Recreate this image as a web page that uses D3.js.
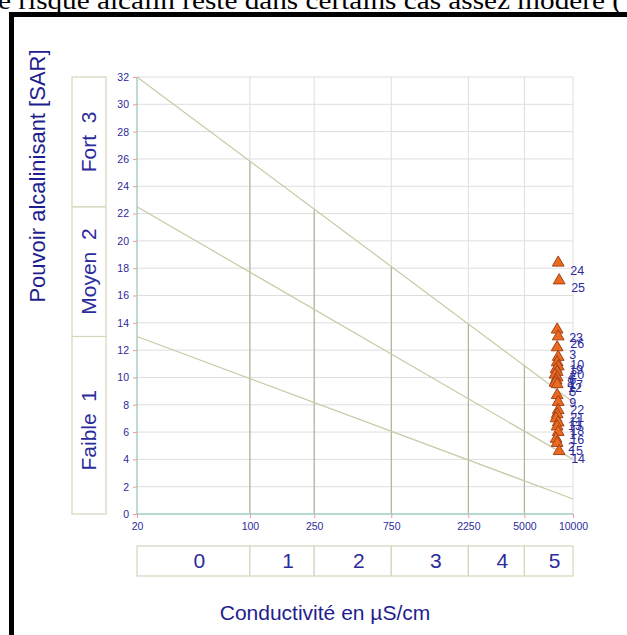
<!DOCTYPE html>
<html>
<head>
<meta charset="utf-8">
<script src="https://cdn.jsdelivr.net/npm/d3@7"></script>
<style>
  body { margin: 0; background: #fff; }
  svg { display: block; }
</style>
</head>
<body>
<script>
// données du diagramme de Richards (SAR / conductivité)
const ecTicks = [20, 100, 250, 750, 2250, 5000, 10000];
const sarTicks = [0, 2, 4, 6, 8, 10, 12, 14, 16, 18, 20, 22, 24, 26, 28, 30, 32];
const salinClasses = ["0", "1", "2", "3", "4", "5"];
const alcaNames = ["Faible", "Moyen", "Fort"];
const alcaNums = ["1", "2", "3"];
const alcaBounds = [0, 13, 22.5, 32];
// droites limites : SAR à 20 et à 10000 µS/cm
const limitStart = [32, 22.5, 13];
const limitEnd = [8.2, 4, 1.1];

const pointIds = [24, 25, 23, 26, 3, 10, 19, 20, 4, 6, 8, 17, 12, 7, 5, 9, 22, 21, 11, 13, 18, 1, 16, 2, 15, 14];
const pointSar = [18.4, 17.1, 13.5, 13.0, 12.2, 11.5, 11.1, 10.8, 10.6, 10.4, 10.2, 10.0, 9.8, 9.6, 9.5, 8.7, 8.2, 7.6, 7.3, 7.0, 6.7, 6.4, 6.0, 5.5, 5.2, 4.6];
const pointEc = [8100, 8210, 7980, 8100, 7980, 8100, 7980, 8100, 7860, 7980, 7740, 7980, 7860, 7740, 7980, 7980, 8100, 8100, 7980, 7860, 8100, 7980, 8100, 7860, 7980, 8210];

const W = 627, H = 635;
const svg = d3.select("body").append("svg")
  .attr("width", W).attr("height", H);

// texte du document coupé en haut
svg.append("text")
  .attr("x", -2).attr("y", 9)
  .attr("font-family", "Liberation Serif, Times New Roman, serif")
  .attr("font-size", 25)
  .attr("textLength", 624)
  .attr("lengthAdjust", "spacingAndGlyphs")
  .text("e risque alcalin reste dans certains cas assez modéré (");

// cadre
svg.append("rect")
  .attr("x", 11.5).attr("y", 14.5)
  .attr("width", 700).attr("height", 700)
  .attr("fill", "none").attr("stroke", "#000").attr("stroke-width", 5);

const x = d3.scaleLog().domain([20, 10000]).range([137, 573]);
const y = d3.scaleLinear().domain([0, 32]).range([514, 77]);

const navy = "#2b2b9c";
const font = "Liberation Sans, Arial, sans-serif";

// grille
svg.append("g").selectAll("line").data(sarTicks).enter().append("line")
  .attr("x1", x(20)).attr("x2", x(10000))
  .attr("y1", d => y(d)).attr("y2", d => y(d))
  .attr("stroke", "#dedede").attr("stroke-width", 1);

svg.append("g").selectAll("line").data(ecTicks.slice(1)).enter().append("line")
  .attr("x1", d => x(d)).attr("x2", d => x(d))
  .attr("y1", y(32)).attr("y2", y(0))
  .attr("stroke", "#dedede").attr("stroke-width", 1);

// verticales sous la droite supérieure
const topLine = d3.scaleLinear().domain([Math.log10(20), Math.log10(10000)]).range([limitStart[0], limitEnd[0]]);
svg.append("g").selectAll("line").data(ecTicks.slice(1, -1)).enter().append("line")
  .attr("x1", d => x(d)).attr("x2", d => x(d))
  .attr("y1", d => y(topLine(Math.log10(d)))).attr("y2", y(0))
  .attr("stroke", "#a9a98c").attr("stroke-width", 1);

// droites limites
svg.append("g").selectAll("line").data(limitStart).enter().append("line")
  .attr("x1", x(20)).attr("x2", x(10000))
  .attr("y1", d => y(d)).attr("y2", (d, i) => y(limitEnd[i]))
  .attr("stroke", "#c9c9a6").attr("stroke-width", 1.2);

// axes
const yAxis = svg.append("g")
  .attr("transform", `translate(${x(20)},0)`)
  .call(d3.axisLeft(y).tickValues(sarTicks).tickSize(4).tickPadding(4));
const xAxis = svg.append("g")
  .attr("transform", `translate(0,${y(0)})`)
  .call(d3.axisBottom(x).tickValues(ecTicks).tickFormat(d3.format("d")).tickSize(4).tickPadding(5));
[yAxis, xAxis].forEach(a => {
  a.select(".domain").attr("stroke", "#a6d2c4").attr("stroke-width", 1.5);
  a.selectAll(".tick line").attr("stroke", "#f29a9a");
  a.selectAll(".tick text").attr("fill", navy).attr("font-family", font).attr("font-size", 10.5);
});
yAxis.select(".domain").attr("d", `M0,${y(32)}V${y(0)}`);
xAxis.select(".domain").attr("d", `M${x(20)},0H${x(10000)}`);

// classes d'alcalinisation (gauche)
const alca = svg.append("g");
alcaNames.forEach((n, i) => {
  const y0 = y(alcaBounds[i + 1]), y1 = y(alcaBounds[i]);
  alca.append("rect")
    .attr("x", 72).attr("y", y0).attr("width", 34).attr("height", y1 - y0)
    .attr("fill", "#fff").attr("stroke", "#d6d6bd").attr("stroke-width", 1.2);
  alca.append("text")
    .attr("transform", `translate(96,${(y0 + y1) / 2 + (i === 0 ? 5 : 0)}) rotate(-90)`)
    .attr("text-anchor", "middle")
    .attr("fill", navy).attr("font-family", font).attr("font-size", 21)
    .style("white-space", "pre")
    .text(n + "  " + alcaNums[i]);
});

// classes de salinité (bas)
const sal = svg.append("g");
salinClasses.forEach((c, i) => {
  const x0 = x(ecTicks[i]), x1 = x(ecTicks[i + 1]);
  sal.append("rect")
    .attr("x", x0).attr("y", 546).attr("width", x1 - x0).attr("height", 30)
    .attr("fill", "#fff").attr("stroke", "#d6d6bd").attr("stroke-width", 1.2);
  sal.append("text")
    .attr("x", (x0 + x1) / 2 + 6).attr("y", 568)
    .attr("text-anchor", "middle")
    .attr("fill", navy).attr("font-family", font).attr("font-size", 21)
    .text(c);
});

// points
const tri = d3.symbol().type(d3.symbolTriangle).size(60);
const pts = svg.append("g").selectAll("g").data(pointIds).enter().append("g")
  .attr("transform", (d, i) => `translate(${x(pointEc[i])},${y(pointSar[i])})`);
pts.append("path").attr("d", tri)
  .attr("fill", "#ec6a1f").attr("stroke", "#a2421a").attr("stroke-width", 1);
pts.append("text")
  .attr("x", 12).attr("y", 12)
  .attr("fill", navy).attr("font-family", font).attr("font-size", 12.5)
  .text(d => d);

// titres
svg.append("text")
  .attr("transform", "translate(45,176) rotate(-90)")
  .attr("text-anchor", "middle")
  .attr("fill", "#1e1e8e").attr("font-family", font).attr("font-size", 22)
  .text("Pouvoir alcalinisant [SAR]");
svg.append("text")
  .attr("x", 325).attr("y", 620)
  .attr("text-anchor", "middle")
  .attr("fill", "#1e1e8e").attr("font-family", font).attr("font-size", 21)
  .text("Conductivité en µS/cm");
</script>
</body>
</html>
